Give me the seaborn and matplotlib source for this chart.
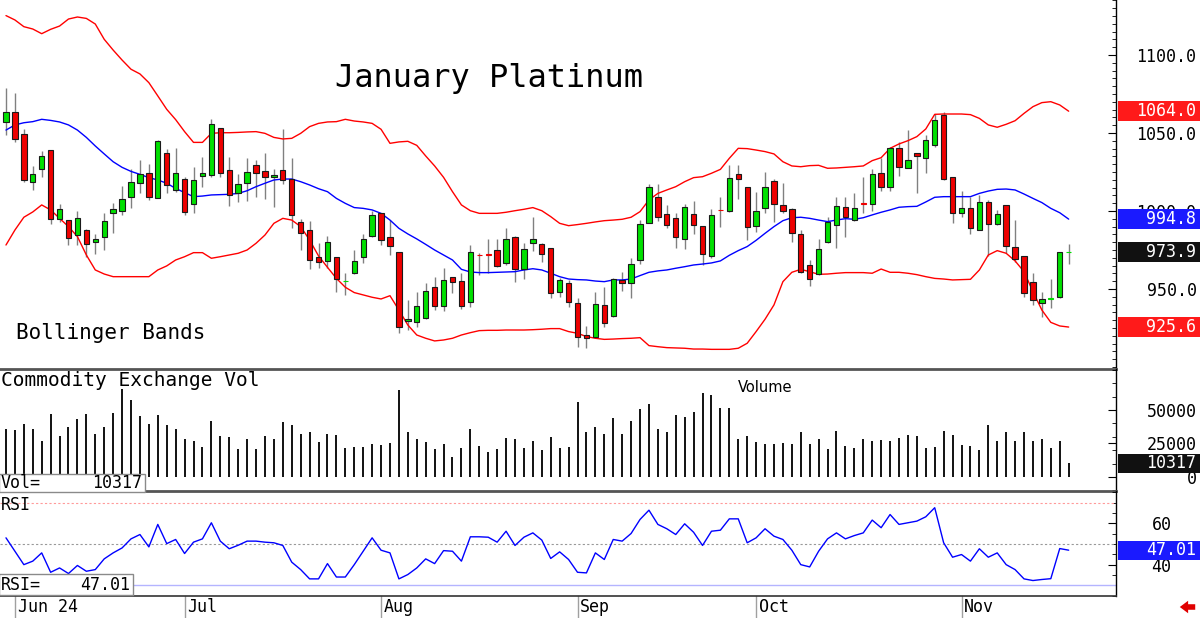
import numpy as np
import pandas as pd
import seaborn as sns
import matplotlib.pyplot as plt
from matplotlib.patches import Rectangle
from matplotlib.ticker import MultipleLocator
from matplotlib.transforms import blended_transform_factory

# January Platinum daily candles, 31 May - 19 Nov 2024
opens = [1057.3, 1063.7, 1049.4, 1018.8, 1026.7, 1039.1, 994.7, 994.3, 984.6, 987.8,
         979.9, 983.1, 999.0, 1000.2, 1008.8, 1017.8, 1024.2, 1008.4, 1037.4, 1013.5,
         1020.3, 1004.7, 1022.2, 1023.3, 1053.4, 1026.3, 1011.4, 1018.2, 1029.3, 1025.9,
         1021.6, 1026.3, 1020.3, 993.2, 987.8, 970.7, 968.0, 970.7, 954.9, 960.1,
         970.7, 984.0, 998.5, 983.6, 973.9, 929.3, 928.6, 931.6, 951.5, 939.3,
         957.5, 955.1, 941.5, 972.0, 972.4, 975.0, 966.5, 983.6, 962.8, 979.7,
         978.6, 976.5, 947.9, 953.6, 940.8, 920.3, 919.0, 939.5, 932.9, 955.8,
         954.1, 968.6, 992.5, 1009.2, 997.9, 995.3, 981.9, 997.9, 990.6, 971.4,
         1000.9, 1000.2, 1023.7, 1015.2, 990.6, 1002.2, 1019.5, 1003.6, 1001.1, 985.1,
         965.4, 959.6, 979.9, 991.0, 1002.6, 994.2, 1005.1, 1004.3, 1024.2, 1015.6,
         1040.2, 1027.8, 1037.0, 1033.8, 1042.3, 1061.6, 1021.6, 998.9, 1002.2, 987.8,
         1006.0, 991.5, 1003.9, 977.2, 971.4, 954.7, 941.2, 943.8, 945.1, 973.4]
highs = [1078.7, 1075.5, 1052.4, 1028.9, 1038.5, 1039.1, 1004.3, 994.3, 1000.0, 988.3,
         985.1, 998.5, 1004.9, 1016.1, 1026.7, 1032.7, 1029.9, 1045.5, 1039.8, 1040.4,
         1022.0, 1028.0, 1034.9, 1058.8, 1053.4, 1034.4, 1023.5, 1034.2, 1032.7, 1037.0,
         1027.2, 1052.4, 1034.2, 994.7, 993.8, 979.7, 984.0, 970.7, 960.5, 975.0,
         985.3, 1000.0, 998.9, 994.2, 973.9, 942.9, 948.3, 954.1, 957.9, 963.3,
         957.9, 960.5, 978.2, 973.3, 981.9, 981.9, 989.3, 984.0, 979.7, 996.0,
         979.3, 976.5, 956.8, 955.8, 944.0, 926.5, 947.9, 951.1, 956.8, 960.7,
         970.1, 994.2, 1017.3, 1017.3, 1003.6, 998.5, 1004.3, 1006.6, 990.6, 1001.1,
         1009.2, 1029.5, 1029.5, 1015.6, 1012.4, 1025.2, 1020.3, 1017.8, 1001.7, 987.8,
         968.6, 982.1, 996.4, 1008.8, 1008.8, 1011.3, 1021.6, 1026.7, 1033.8, 1041.3,
         1044.5, 1051.9, 1037.4, 1048.7, 1062.0, 1063.3, 1021.6, 1013.1, 1009.2, 1010.3,
         1007.1, 1000.7, 1003.9, 994.2, 971.4, 960.5, 948.1, 956.4, 973.9, 978.9]
lows = [1048.7, 1044.5, 1018.8, 1013.5, 1022.0, 991.7, 993.2, 978.2, 978.2, 970.8,
        972.5, 975.0, 986.1, 997.7, 1001.9, 1011.4, 1007.1, 1008.1, 1011.8, 1012.0,
        997.5, 999.0, 1015.6, 1022.0, 1022.0, 1003.4, 1006.0, 1006.2, 1009.2, 1007.7,
        1002.4, 1017.3, 988.9, 975.0, 962.6, 963.3, 963.3, 948.3, 946.2, 959.6,
        966.9, 983.6, 978.2, 971.8, 922.0, 923.7, 925.9, 930.6, 936.5, 936.1,
        947.2, 937.0, 938.3, 959.0, 960.5, 964.3, 965.4, 954.3, 956.4, 974.6,
        967.5, 944.0, 944.7, 938.7, 913.0, 912.0, 918.4, 925.9, 932.3, 948.9,
        944.0, 965.8, 992.5, 993.8, 989.3, 976.5, 975.4, 985.3, 965.4, 969.7,
        989.5, 999.6, 1007.7, 981.4, 986.8, 998.5, 993.2, 998.5, 980.4, 960.1,
        952.1, 959.0, 979.3, 976.1, 983.1, 993.8, 999.0, 1000.0, 1013.1, 1013.1,
        1022.5, 1027.4, 1011.3, 1024.2, 1041.3, 1019.9, 992.1, 996.0, 985.3, 987.8,
        971.2, 991.0, 972.9, 967.5, 945.1, 939.8, 931.8, 937.6, 944.0, 966.0]
closes = [1063.7, 1046.0, 1019.9, 1023.7, 1035.3, 994.7, 1001.1, 982.9, 995.3, 978.7,
          981.9, 993.8, 1001.5, 1007.9, 1018.6, 1023.7, 1008.8, 1044.9, 1016.5, 1024.2,
          999.6, 1019.9, 1024.2, 1055.8, 1024.6, 1010.1, 1017.1, 1025.0, 1024.2, 1022.0,
          1023.1, 1019.9, 997.5, 985.7, 968.6, 967.5, 979.9, 956.4, 955.4, 968.2,
          981.9, 997.5, 981.4, 977.8, 925.9, 930.6, 939.1, 948.9, 939.3, 955.8,
          954.7, 939.1, 973.5, 971.6, 972.0, 965.0, 982.3, 962.8, 975.4, 982.1,
          972.4, 947.2, 955.8, 941.9, 919.5, 918.4, 940.2, 928.4, 956.2, 953.6,
          965.8, 991.5, 1015.6, 996.4, 991.0, 983.6, 1002.8, 991.0, 972.4, 997.5,
          1000.4, 1021.4, 1020.7, 990.0, 1000.0, 1015.6, 1004.5, 1000.2, 986.1, 960.7,
          956.2, 975.4, 993.2, 1003.2, 996.0, 1001.7, 1004.7, 1023.5, 1015.6, 1040.2,
          1028.4, 1032.7, 1035.3, 1045.5, 1058.4, 1020.5, 998.5, 1002.2, 989.3, 1005.6,
          991.5, 997.9, 977.8, 969.2, 947.7, 942.9, 943.4, 944.2, 973.5, 973.9]

upper_band = [1125.3, 1122.5, 1118.2, 1116.7, 1113.7, 1116.5, 1118.6, 1123.1, 1124.4, 1123.5,
              1119.9, 1110.1, 1103.2, 1096.8, 1090.9, 1087.9, 1082.3, 1073.8, 1065.2, 1058.6,
              1050.9, 1044.0, 1044.0, 1049.8, 1050.2, 1050.2, 1050.4, 1050.7, 1050.9, 1049.8,
              1047.2, 1046.2, 1046.6, 1049.8, 1054.1, 1056.2, 1057.1, 1057.3, 1058.8, 1057.7,
              1057.1, 1056.2, 1052.4, 1043.4, 1044.3, 1044.7, 1042.1, 1035.3, 1028.9, 1021.6,
              1012.4, 1003.9, 1000.2, 998.5, 998.5, 998.5, 999.2, 1000.2, 1001.1, 1002.2,
              1000.2, 996.4, 992.1, 990.6, 991.3, 992.1, 993.0, 993.8, 994.2, 994.7,
              996.0, 999.6, 1007.1, 1011.3, 1013.5, 1015.6, 1018.8, 1021.4, 1022.0, 1024.2,
              1026.7, 1033.8, 1040.2, 1040.0, 1039.1, 1038.1, 1036.6, 1031.6, 1028.9, 1028.4,
              1029.1, 1029.3, 1027.4, 1027.6, 1028.0, 1028.4, 1028.9, 1032.3, 1034.2, 1040.2,
              1043.0, 1045.1, 1047.7, 1052.6, 1062.0, 1062.2, 1062.2, 1062.2, 1061.8, 1059.4,
              1055.2, 1053.7, 1055.6, 1057.9, 1062.6, 1066.9, 1069.5, 1070.1, 1068.0, 1064.0]
middle_band = [1051.9, 1055.2, 1056.6, 1057.3, 1058.8, 1058.1, 1057.1, 1055.2, 1051.9, 1047.2,
               1041.7, 1036.6, 1031.6, 1028.0, 1025.4, 1023.5, 1021.4, 1019.9, 1017.8, 1014.5,
               1011.8, 1009.2, 1009.6, 1010.3, 1010.5, 1010.7, 1011.3, 1013.0, 1015.6, 1017.8,
               1019.9, 1020.5, 1020.5, 1018.8, 1016.7, 1014.3, 1012.4, 1008.1, 1004.9, 1002.2,
               1001.7, 1000.7, 998.5, 994.2, 988.9, 985.3, 982.1, 978.6, 975.0, 971.8,
               968.6, 962.6, 960.9, 960.5, 960.5, 960.7, 960.9, 961.1, 962.2, 963.0,
               962.2, 960.1, 957.9, 956.4, 956.0, 955.8, 955.1, 954.7, 955.8, 955.8,
               956.4, 958.6, 960.7, 961.6, 962.2, 963.3, 964.3, 965.4, 966.0, 966.7,
               968.0, 971.6, 974.6, 977.2, 981.2, 985.7, 990.0, 993.8, 995.7, 996.0,
               995.3, 994.2, 993.2, 994.2, 995.1, 994.7, 995.7, 997.5, 999.2, 1000.7,
               1002.4, 1002.8, 1003.0, 1005.8, 1008.8, 1009.2, 1009.2, 1009.2, 1009.2, 1011.3,
               1012.8, 1013.9, 1014.1, 1013.5, 1010.9, 1008.1, 1005.4, 1001.7, 998.9, 994.8]
lower_band = [978.2, 987.8, 996.0, 999.4, 1003.9, 1000.7, 995.3, 990.0, 983.6, 971.8,
              962.2, 959.6, 957.9, 957.9, 957.9, 957.9, 957.9, 962.2, 964.8, 968.6,
              970.7, 973.3, 973.3, 969.7, 970.7, 971.8, 972.9, 975.0, 979.3, 984.6,
              992.1, 995.3, 994.2, 990.0, 981.4, 971.2, 963.9, 956.8, 951.1, 947.7,
              946.2, 944.7, 943.6, 945.7, 936.5, 926.9, 920.5, 918.4, 916.7, 917.3,
              918.4, 920.5, 922.0, 923.3, 923.5, 923.5, 923.7, 923.7, 923.7, 923.9,
              924.2, 924.6, 924.6, 922.7, 921.6, 919.5, 918.4, 917.7, 917.9, 918.2,
              918.4, 918.8, 913.7, 913.0, 912.4, 912.2, 912.0, 911.5, 911.5, 911.3,
              911.3, 911.3, 912.0, 915.2, 922.7, 930.6, 939.8, 954.7, 960.7, 962.6,
              961.1, 959.4, 959.6, 960.1, 960.5, 960.5, 960.5, 960.1, 962.8, 960.7,
              960.7, 960.1, 959.2, 957.9, 956.8, 956.4, 955.8, 956.0, 956.2, 962.2,
              971.8, 974.6, 972.9, 968.0, 961.1, 948.3, 936.5, 928.6, 926.3, 925.6]

volume = [35900, 35400, 39700, 35900, 27000, 46700, 30800, 37400, 43400, 46700,
          32300, 37100, 48000, 65700, 57600, 45500, 39900, 46000, 38600, 35900,
          28300, 26500, 22700, 41700, 30300, 29500, 20700, 28300, 20700, 30800,
          28300, 41400, 38900, 32100, 33600, 25800, 32300, 31600, 21500, 22700,
          22700, 24500, 24000, 25300, 65100, 33600, 28500, 25800, 21000, 24500,
          15200, 22000, 36100, 23200, 18900, 21000, 29000, 28300, 22000, 27000,
          20200, 29500, 22000, 22700, 56100, 33300, 37400, 32100, 43700, 32300,
          41700, 50500, 54800, 36100, 33600, 46000, 44700, 48500, 62600, 61100,
          51800, 51800, 28300, 30800, 25800, 24500, 24500, 25300, 24500, 33300,
          24500, 28300, 21000, 34600, 23500, 22000, 28300, 27000, 27800, 26500,
          29000, 31100, 30800, 21500, 22700, 34600, 31100, 24000, 23200, 20200,
          39100, 27000, 33300, 26500, 33300, 27000, 28300, 21500, 26500, 10317]

rsi = [53.0, 46.5, 40.0, 41.7, 45.7, 36.3, 38.4, 35.7, 39.6, 36.8,
       37.6, 42.8, 45.7, 48.1, 52.5, 54.6, 48.6, 59.5, 50.2, 52.2,
       45.4, 50.9, 52.5, 60.3, 51.4, 47.7, 49.4, 51.4, 51.4, 50.9,
       50.6, 49.3, 41.2, 37.6, 33.1, 33.1, 40.5, 34.0, 34.0, 40.0,
       46.5, 53.0, 47.0, 45.7, 33.1, 35.2, 38.4, 42.8, 40.5, 46.8,
       46.5, 41.7, 53.5, 53.5, 53.3, 50.9, 56.2, 49.3, 53.3, 55.4,
       51.9, 43.0, 46.2, 42.5, 36.3, 36.0, 45.7, 42.5, 52.2, 51.4,
       55.1, 61.9, 66.4, 59.5, 57.4, 54.6, 59.8, 55.7, 49.3, 56.2,
       56.7, 62.2, 62.2, 50.6, 53.0, 57.4, 53.8, 52.2, 47.0, 40.0,
       38.9, 46.5, 52.5, 55.4, 52.5, 54.1, 55.4, 61.6, 57.9, 64.3,
       59.5, 60.3, 61.1, 63.2, 67.6, 50.6, 43.6, 44.9, 41.7, 47.7,
       43.6, 45.7, 40.0, 37.6, 33.1, 32.3, 32.8, 33.2, 47.8, 47.01]

holidays = ["2024-06-19", "2024-07-04", "2024-09-02"]
dates = pd.bdate_range("2024-05-31", "2024-11-19")
dates = dates[~dates.isin(pd.to_datetime(holidays))]
idx = np.arange(len(dates))

sns.set_style("white")
plt.rcParams["font.family"] = ["DejaVu Sans Mono", "DejaVu Sans"]
plt.rcParams["text.color"] = "black"
plt.rcParams["ytick.color"] = "black"
plt.rcParams["xtick.color"] = "black"

W, H = 1200, 618
fig = plt.figure(figsize=(W / 100, H / 100), dpi=100)


def panel(top, bottom):
    return [0, 1 - bottom / H, 1116 / W, (bottom - top) / H]


ax = fig.add_axes(panel(0, 369))
axv = fig.add_axes(panel(369, 491), sharex=ax)
axr = fig.add_axes(panel(491, 596), sharex=ax)

# candles
o, hi, lo, c = map(np.array, (opens, highs, lows, closes))
rising = c >= o
body_col = np.where(rising, "#00e000", "#ee0000")
edge_col = np.where(np.abs(c - o) < 1.0, body_col, "#1a1a1a")
ax.vlines(idx, lo, hi, color="#808080", lw=1, zorder=2)
ax.bar(idx, np.abs(c - o), bottom=np.minimum(o, c), width=0.6,
       color=body_col, edgecolor=edge_col, linewidth=0.8, zorder=3)

# bollinger bands
sns.lineplot(x=idx, y=upper_band, ax=ax, color="#ff0000", linewidth=1)
sns.lineplot(x=idx, y=lower_band, ax=ax, color="#ff0000", linewidth=1)
sns.lineplot(x=idx, y=middle_band, ax=ax, color="#0000ff", linewidth=1)

# volume
axv.vlines(idx, 0, volume, color="#111111", lw=1.4)

# rsi
axr.axhline(70, color="#ff9a9a", lw=0.8, ls=(0, (2, 2)))
axr.axhline(50, color="#999999", lw=0.8, ls=(0, (2, 2)))
axr.axhline(30, color="#b4b4ff", lw=1)
sns.lineplot(x=idx, y=rsi, ax=axr, color="#0000ff", linewidth=1)

ax.set_xlim(-0.67, 124.3)
ax.set_ylim(898.7, 1135.3)
axv.set_ylim(-10450, 80600)
axr.set_ylim(24.8, 75.7)

for a in (ax, axv, axr):
    a.set_xlabel("")
    a.set_ylabel("")
    a.spines["top"].set_visible(False)
    a.spines["left"].set_visible(False)
    a.spines["right"].set_color("black")
    a.spines["right"].set_linewidth(1)
    a.tick_params(axis="x", bottom=False, labelbottom=False)
    a.yaxis.tick_right()
    a.tick_params(axis="y", which="major", direction="in", length=6, width=0.8,
                  color="black", labelcolor="black", labelsize=12)
    a.tick_params(axis="y", which="minor", direction="in", length=3, width=0.6,
                  color="black")
    a.patch.set_alpha(0)
for a in (ax, axv):
    a.spines["bottom"].set_color("#555555")
    a.spines["bottom"].set_linewidth(2)
axr.spines["bottom"].set_color("#333333")
axr.spines["bottom"].set_linewidth(1.2)

ax.set_yticks([950, 1000, 1050, 1100])
ax.set_yticklabels([f"{v:.1f}" for v in [950, 1000, 1050, 1100]])
ax.yaxis.set_minor_locator(MultipleLocator(5))
axv.set_yticks([0, 25000, 50000])
axv.set_yticklabels(["0", "25000", "50000"])
axv.yaxis.set_minor_locator(MultipleLocator(10000))
axr.set_yticks([40, 60])
axr.set_yticklabels(["40", "60"])
axr.yaxis.set_minor_locator(MultipleLocator(5))

ax.tick_params(axis="y", pad=58)
axv.tick_params(axis="y", pad=58)
axr.tick_params(axis="y", pad=40)
for a in (ax, axv, axr):
    for t in a.get_yticklabels():
        t.set_horizontalalignment("right")


def value_box(a, value, text, face, half):
    tr = blended_transform_factory(a.transAxes, a.transData)
    a.add_patch(Rectangle((1.0015, value - half), 82 / 1116, 2 * half, transform=tr,
                          facecolor=face, edgecolor="none", clip_on=False, zorder=5))
    a.text(1196 / 1116, value, text, transform=tr, ha="right", va="center",
           color="white", fontsize=12, zorder=6, clip_on=False)


value_box(ax, upper_band[-1], f"{upper_band[-1]:.1f}", "#ff1a1a", 6.4)
value_box(ax, middle_band[-1], f"{middle_band[-1]:.1f}", "#1a1aff", 6.4)
value_box(ax, closes[-1], f"{closes[-1]:.1f}", "#111111", 6.4)
value_box(ax, lower_band[-1], f"{lower_band[-1]:.1f}", "#ff1a1a", 6.4)
value_box(axv, volume[-1], f"{volume[-1]}", "#111111", 7000)
value_box(axr, rsi[-1], f"{rsi[-1]:.2f}", "#1a1aff", 4.6)


def left_box(top, bottom, right, label, value):
    fig.add_artist(Rectangle((-1 / W, 1 - bottom / H), (right + 1) / W, (bottom - top) / H,
                             transform=fig.transFigure, facecolor="white",
                             edgecolor="#8a8a8a", lw=1, zorder=5))
    ymid = 1 - (top + bottom) / 2 / H
    fig.text(1 / W, ymid, label, ha="left", va="center", fontsize=12, zorder=6)
    fig.text((right - 3) / W, ymid, value, ha="right", va="center", fontsize=12, zorder=6)


left_box(474, 492, 145, "Vol=", f"{volume[-1]}")
left_box(574, 595, 133, "RSI=", f"{rsi[-1]:.2f}")

# texts
fig.text(489 / W, 1 - 78 / H, "January Platinum", ha="center", va="center", fontsize=23)
fig.text(16 / W, 1 - 333 / H, "Bollinger Bands", ha="left", va="center", fontsize=15)
fig.text(1 / W, 1 - 381 / H, "Commodity Exchange Vol", ha="left", va="center", fontsize=14)
fig.text(765 / W, 1 - 388 / H, "Volume", ha="center", va="center", fontsize=10.5,
         family="DejaVu Sans")
fig.text(1 / W, 1 - 505 / H, "RSI", ha="left", va="center", fontsize=12)

# month labels along the bottom
month_pos = [i for i in idx if i == 0 or dates[i].month != dates[i - 1].month][1:]
tr = blended_transform_factory(axr.transData, axr.transAxes)
for k, p in enumerate(month_pos):
    label = dates[p].strftime("%b %y") if k == 0 else dates[p].strftime("%b")
    axr.plot([p, p], [0, -0.22], transform=tr, color="#a0a0a0", lw=1, clip_on=False)
    axr.text(p + 0.3, -0.105, label, transform=tr, ha="left", va="center",
             fontsize=12, clip_on=False)

axr.annotate("", xy=(1177, 11), xytext=(1198, 11), xycoords="figure pixels",
             textcoords="figure pixels",
             arrowprops=dict(arrowstyle="simple,head_length=0.6,head_width=0.9,tail_width=0.4",
                             color="#e00000", lw=0))

fig.savefig("out.png", dpi=100)
